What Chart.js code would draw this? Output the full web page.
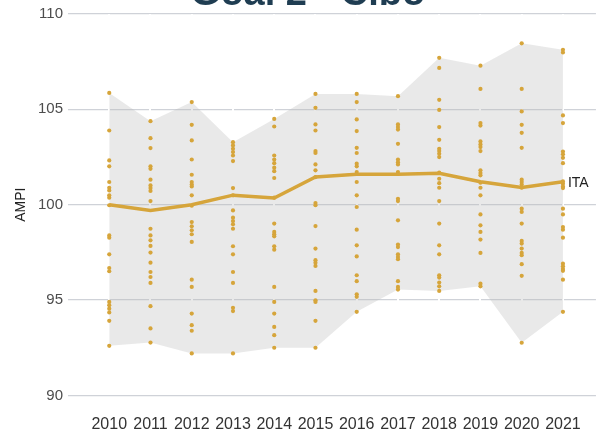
<!DOCTYPE html>
<html>
<head>
<meta charset="utf-8">
<script src="https://cdn.jsdelivr.net/npm/chart.js@4"></script>
<style>
  html, body { margin: 0; padding: 0; background: #ffffff; }
  #wrap { width: 601px; height: 437px; position: relative; }
</style>
</head>
<body>
<div id="wrap"><canvas id="chart" width="601" height="437"></canvas></div>
<script>
// Years on the x axis
const years = [2010, 2011, 2012, 2013, 2014, 2015, 2016, 2017, 2018, 2019, 2020, 2021];

// National index (ITA)
const itaValues = [100.0, 99.7, 100.0, 100.5, 100.35, 101.45, 101.6, 101.6, 101.65, 101.2, 100.9, 101.2];

// Regional index values, one list per year
const r2010 = [105.86, 103.89, 102.32, 102.01, 101.19, 100.89, 100.75, 100.49, 100.37, 99.97, 98.39, 98.27, 97.40, 96.68, 96.51, 94.90, 94.73, 94.55, 94.35, 93.91, 92.60];
const r2011 = [104.38, 103.49, 102.97, 102.01, 101.88, 101.31, 101.01, 100.87, 100.72, 100.19, 98.74, 98.39, 98.13, 97.84, 97.49, 96.96, 96.47, 96.21, 95.90, 94.68, 93.51, 92.77];
const r2012 = [105.38, 104.19, 103.37, 102.37, 101.57, 101.19, 101.06, 100.96, 100.49, 99.95, 99.09, 98.87, 98.66, 98.45, 98.05, 96.07, 95.69, 94.29, 93.68, 93.39, 92.20];
const r2013 = [103.28, 103.11, 102.93, 102.76, 102.58, 102.29, 100.87, 100.49, 99.70, 99.32, 99.14, 98.97, 98.74, 97.82, 97.40, 96.47, 95.90, 94.59, 94.42, 92.20];
const r2014 = [104.50, 104.10, 102.58, 102.37, 102.18, 101.94, 101.76, 101.40, 100.37, 99.01, 98.57, 98.45, 98.34, 97.82, 97.64, 95.69, 94.90, 94.29, 93.59, 93.16, 92.50];
const r2015 = [105.81, 105.08, 104.21, 103.89, 102.81, 102.71, 102.11, 101.80, 101.45, 100.09, 99.97, 98.88, 97.70, 97.09, 96.95, 96.79, 95.48, 94.99, 94.90, 93.91, 92.50];
const r2016 = [105.81, 105.38, 104.47, 103.86, 102.98, 102.71, 102.15, 102.01, 101.71, 101.19, 100.49, 99.88, 98.69, 97.87, 97.29, 96.30, 95.99, 95.30, 95.17, 94.38];
const r2017 = [105.69, 104.21, 104.07, 103.94, 103.19, 102.37, 102.23, 102.11, 101.71, 100.31, 100.19, 99.18, 97.91, 97.78, 97.40, 97.26, 97.14, 95.99, 95.69, 95.55];
const r2018 = [107.70, 107.17, 105.50, 104.97, 104.07, 103.40, 102.93, 102.81, 102.67, 102.50, 101.68, 101.36, 101.13, 100.89, 100.19, 99.01, 97.87, 97.40, 96.30, 96.18, 95.92, 95.72, 95.48];
const r2019 = [107.29, 106.07, 104.28, 104.15, 103.32, 103.16, 103.02, 102.81, 101.80, 101.66, 101.54, 101.15, 100.89, 100.49, 99.49, 98.92, 98.57, 98.17, 97.47, 95.86, 95.72];
const r2020 = [108.46, 106.07, 104.89, 104.19, 103.77, 102.98, 101.31, 101.19, 101.06, 100.89, 99.79, 99.62, 99.01, 98.10, 97.96, 97.70, 97.47, 97.35, 96.88, 96.27, 92.76];
const r2021 = [108.12, 107.98, 104.68, 104.28, 102.79, 102.64, 102.46, 102.18, 101.22, 101.10, 100.96, 100.87, 99.79, 99.49, 98.83, 98.69, 98.27, 96.91, 96.77, 96.63, 96.53, 96.07, 94.38];
const regional = [r2010, r2011, r2012, r2013, r2014, r2015, r2016, r2017, r2018, r2019, r2020, r2021];

// Y axis ticks
const yTicks = [90, 95, 100, 105, 110];

const chartTitle = 'Goal 2 - Cibo';
const yTitle = 'AMPI';
const seriesLabel = 'ITA';

const gold = '#d6a53b';

// Points built from the arrays above
const itaPoints = years.map((y, i) => ({ x: y, y: itaValues[i] }));
const dotPoints = [];
years.forEach((y, i) => regional[i].forEach(v => dotPoints.push({ x: y, y: v })));
const maxPoints = years.map((y, i) => ({ x: y, y: Math.max(...regional[i]) }));
const minPoints = years.map((y, i) => ({ x: y, y: Math.min(...regional[i]) }));

// Title text (partly above the canvas) and the end label of the national line
const textPlugin = {
  id: 'textPlugin',
  afterDraw(chart) {
    const ctx = chart.ctx;
    ctx.save();
    ctx.fillStyle = '#1f3d52';
    ctx.font = 'bold 38px "Liberation Sans", Arial, sans-serif';
    ctx.textAlign = 'center';
    ctx.textBaseline = 'alphabetic';
    ctx.fillText(chartTitle, 308, 5);

    const xs = chart.scales.x, ys = chart.scales.y;
    const last = itaPoints[itaPoints.length - 1];
    ctx.fillStyle = '#222222';
    ctx.font = '14px "Liberation Sans", Arial, sans-serif';
    ctx.textAlign = 'left';
    ctx.textBaseline = 'middle';
    ctx.fillText(seriesLabel, xs.getPixelForValue(last.x) + 5, ys.getPixelForValue(last.y) + 1);
    ctx.restore();
  }
};

new Chart(document.getElementById('chart'), {
  type: 'line',
  data: {
    datasets: [
      {
        label: seriesLabel,
        data: itaPoints,
        borderColor: gold,
        borderWidth: 3.5,
        pointRadius: 0,
        tension: 0,
        fill: false
      },
      {
        label: 'regioni',
        data: dotPoints,
        showLine: false,
        pointRadius: 2.1,
        pointBorderWidth: 0,
        pointBackgroundColor: gold,
        pointBorderColor: gold
      },
      {
        label: 'max',
        data: maxPoints,
        borderWidth: 0,
        borderColor: 'rgba(0,0,0,0)',
        pointRadius: 0,
        tension: 0,
        fill: '+1',
        backgroundColor: 'rgba(185,185,185,0.31)'
      },
      {
        label: 'min',
        data: minPoints,
        borderWidth: 0,
        borderColor: 'rgba(0,0,0,0)',
        pointRadius: 0,
        tension: 0,
        fill: false
      }
    ]
  },
  options: {
    responsive: false,
    animation: false,
    devicePixelRatio: 1,
    layout: { padding: { top: 14, left: 0, right: 0, bottom: 0 } },
    plugins: {
      legend: { display: false },
      tooltip: { enabled: false },
      title: { display: false }
    },
    scales: {
      x: {
        type: 'linear',
        min: 2009,
        max: 2021.8,
        afterFit: s => { s.height = 41.6; },
        afterBuildTicks: s => { s.ticks = years.map(v => ({ value: v })); },
        border: { display: false },
        grid: { color: '#ffffff', lineWidth: 2, drawTicks: false, z: -1 },
        ticks: {
          padding: 20,
          color: '#333333',
          font: { family: '"Liberation Sans", Arial, sans-serif', size: 16 },
          callback: v => String(v),
          maxRotation: 0,
          autoSkip: false
        }
      },
      y: {
        min: 90,
        max: 110,
        afterFit: s => { s.width = 68; },
        afterBuildTicks: s => { s.ticks = yTicks.map(v => ({ value: v })); },
        border: { display: false },
        grid: { color: '#cfd2d8', lineWidth: 1.3, drawTicks: false, z: -2 },
        ticks: {
          padding: 5,
          color: '#4d4d4d',
          font: { family: '"Liberation Sans", Arial, sans-serif', size: 15 },
          callback: v => String(v)
        },
        title: {
          display: true,
          text: yTitle,
          color: '#222222',
          font: { family: '"Liberation Sans", Arial, sans-serif', size: 14 },
          padding: { top: 13, bottom: 0 }
        }
      }
    }
  },
  plugins: [textPlugin]
});
</script>
</body>
</html>
